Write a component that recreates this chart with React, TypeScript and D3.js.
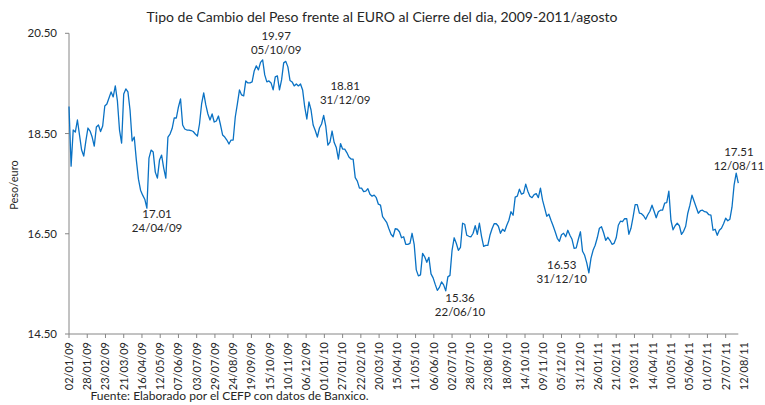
import React from "react";
import * as d3 from "d3";

// ---- data ----
const START_DATE = "2009-01-02";
const STEP_DAYS = 3;
const TICK_EVERY_DAYS = 26;
const TICK_COUNT = 37;
const END_LABEL = "12/08/11";
const yTicks = [14.5, 16.5, 18.5, 20.5];

// Peso per euro, one reading every 3 calendar days from 02/01/09 to 12/08/11
const rate = [
  19.04, 17.85, 18.57, 18.53, 18.77, 18.47, 18.17, 18.05, 18.35, 18.61,
  18.55, 18.43, 18.25, 18.63, 18.67, 18.54, 18.65, 19.05, 19.09, 19.21,
  19.33, 19.23, 19.45, 19.15, 18.57, 18.31, 19.29, 19.39, 19.33, 18.97,
  18.35, 18.43, 17.97, 17.59, 17.37, 17.27, 17.19, 17.01, 18.01, 18.17,
  18.13, 17.73, 17.61, 17.97, 18.07, 17.81, 17.61, 18.43, 18.49, 18.6,
  18.81, 18.81, 19.03, 19.19, 18.67, 18.59, 18.57, 18.57, 18.56, 18.54,
  18.49, 18.45, 18.69, 19.09, 19.31, 19.07, 18.89, 18.77, 18.89, 18.73,
  18.75, 18.85, 18.67, 18.47, 18.43, 18.37, 18.29, 18.37, 18.37, 18.83,
  19.09, 19.37, 19.27, 19.25, 19.55, 19.51, 19.51, 19.53, 19.75, 19.85,
  19.77, 19.92, 19.97, 19.67, 19.53, 19.55, 19.51, 19.37, 19.63, 19.65,
  19.37, 19.57, 19.91, 19.94, 19.83, 19.56, 19.53, 19.45, 19.49, 19.45,
  19.49, 19.37, 19.03, 18.79, 19.13, 18.97, 18.67, 18.56, 18.43, 18.61,
  18.69, 18.86, 18.65, 18.27, 18.33, 18.55, 18.32, 18.22, 17.99, 18.3,
  18.19, 18.19, 18.12, 18.03, 17.99, 17.99, 17.62, 17.55, 17.41, 17.41,
  17.34, 17.35, 17.4, 17.29, 17.25, 17.27, 17.22, 17.09, 17.07, 16.84,
  16.78, 16.72, 16.6, 16.49, 16.44, 16.6, 16.59, 16.54, 16.42, 16.44,
  16.29, 16.29, 16.31, 16.51, 16.29, 15.78, 15.66, 15.68, 16.11, 16.04,
  15.93, 16.03, 15.7, 15.62, 15.49, 15.37, 15.43, 15.54, 15.48, 15.36,
  15.64, 15.67, 16.17, 16.42, 16.31, 16.17, 16.23, 16.71, 16.69, 16.47,
  16.45, 16.44, 16.51, 16.66, 16.49, 16.71, 16.45, 16.25, 16.27, 16.27,
  16.47, 16.6, 16.7, 16.7, 16.65, 16.51, 16.59, 16.55, 16.67, 16.77,
  16.94, 16.87, 17.23, 17.25, 17.39, 17.29, 17.31, 17.49, 17.35, 17.25,
  17.22, 17.28, 17.3, 17.22, 17.41, 17.17, 17.01, 16.85, 16.89, 16.77,
  16.66, 16.54, 16.41, 16.35, 16.48, 16.51, 16.44, 16.57, 16.47, 16.39,
  16.21, 16.22, 16.39, 16.54, 16.15, 16.07, 15.92, 15.72, 16.01, 16.17,
  16.27, 16.42, 16.61, 16.64, 16.52, 16.37, 16.43, 16.37, 16.29, 16.31,
  16.42, 16.67, 16.75, 16.74, 16.8, 16.8, 16.49, 16.61, 16.83, 17.08,
  17.08, 16.91, 16.9, 16.86, 16.79, 16.88, 16.95, 17.07, 16.95, 16.82,
  16.94, 16.97, 16.97, 17.11, 17.12, 17.35, 16.77, 16.58, 16.66, 16.71,
  16.66, 16.49, 16.55, 16.65, 16.91, 17.07, 17.27, 17.15, 17.03, 16.91,
  16.96, 16.97, 16.94, 16.93, 16.88, 16.87, 16.57, 16.59, 16.47, 16.57,
  16.61, 16.7, 16.81, 16.76, 16.79, 17.03, 17.47, 17.71, 17.51,
];

// annotated points
const annValues = ["19.97", "18.81", "17.01", "15.36", "16.53", "17.51"];
const annDates = ["05/10/09", "31/12/09", "24/04/09", "22/06/10", "31/12/10", "12/08/11"];
// label offsets (px) from the annotated point
const annOffsets: [number, number][] = [
  [13.5, -19.5],
  [21.5, -27.5],
  [9.5, 10],
  [15, 11.7],
  [-18, 37],
  [2, -27],
];

const TITLE = "Tipo de Cambio del Peso frente al EURO al Cierre del dia, 2009-2011/agosto";
const Y_LABEL = "Peso/euro";
const SOURCE = "Fuente: Elaborado por el CEFP con datos de Banxico.";

export default function App() {
  const W = 765;
  const H = 405;
  const m = { left: 69, right: 738.3, top: 33.3, bottom: 334 };
  const font = "Lato, 'Open Sans', sans-serif";
  const axisColor = "#868686";
  const textColor = "#262626";

  const parseIso = d3.utcParse("%Y-%m-%d");
  const parseDmy = d3.utcParse("%d/%m/%y");
  const fmt = d3.utcFormat("%d/%m/%y");
  const t0 = parseIso(START_DATE) as Date;
  const dates = rate.map((_, i) => d3.utcDay.offset(t0, i * STEP_DAYS));

  const x = d3.scaleUtc().domain([t0, dates[dates.length - 1]]).range([m.left, m.right]);
  const y = d3.scaleLinear().domain([14.5, 20.5]).range([m.bottom, m.top]);

  const linePath = d3
    .line<number>()
    .x((_, i) => x(dates[i]))
    .y((d) => y(d))(rate) as string;

  const tickDates = d3.range(TICK_COUNT).map((k) => d3.utcDay.offset(t0, k * TICK_EVERY_DAYS));
  const tickStep = x(tickDates[1]) - x(tickDates[0]);
  const xLabels = tickDates.map((d) => ({ x: x(d), text: fmt(d) }));
  xLabels.push({ x: x(tickDates[tickDates.length - 1]) + tickStep, text: END_LABEL });

  return (
    <svg
      width={W}
      height={H}
      viewBox={`0 0 ${W} ${H}`}
      style={{ position: "absolute", left: 0, top: 0, background: "#fff" }}
      fontFamily={font}
    >
      <rect x={0} y={0} width={W} height={H} fill="#fff" />
      <text x={382} y={22} textAnchor="middle" fontSize={14} fill={textColor}>
        {TITLE}
      </text>

      {/* y axis */}
      <line x1={m.left} x2={m.left} y1={y(20.5)} y2={y(14.5)} stroke={axisColor} strokeWidth={1} />
      {yTicks.map((t) => (
        <g key={t}>
          <line x1={m.left - 4} x2={m.left} y1={y(t)} y2={y(t)} stroke={axisColor} strokeWidth={1} />
          <text x={57} y={y(t)} dy="0.35em" textAnchor="end" fontSize={11.5} fill={textColor}>
            {d3.format(".2f")(t)}
          </text>
        </g>
      ))}
      <text
        transform={`translate(14,185) rotate(-90)`}
        textAnchor="middle"
        dy="0.35em"
        fontSize={11}
        fill={textColor}
      >
        {Y_LABEL}
      </text>

      {/* x axis */}
      <line x1={m.left} x2={m.right} y1={m.bottom} y2={m.bottom} stroke={axisColor} strokeWidth={1} />
      {tickDates.map((d, k) => (
        <line
          key={k}
          x1={x(d)}
          x2={x(d)}
          y1={m.bottom}
          y2={m.bottom + 4}
          stroke={axisColor}
          strokeWidth={1}
        />
      ))}
      {xLabels.map((l, k) => (
        <text
          key={k}
          transform={`translate(${l.x},${m.bottom + 8}) rotate(-90)`}
          textAnchor="end"
          dy="0.35em"
          fontSize={11}
          fill={textColor}
        >
          {l.text}
        </text>
      ))}

      {/* series */}
      <path d={linePath} fill="none" stroke="#0a72c4" strokeWidth={1.3} strokeLinejoin="round" />

      {/* annotations */}
      {annValues.map((v, k) => {
        const ax = x(parseDmy(annDates[k]) as Date) + annOffsets[k][0];
        const ay = y(+v) + annOffsets[k][1];
        return (
          <g key={k} fontSize={11.5} fill={textColor} textAnchor="middle">
            <text x={ax} y={ay - 0.5}>{v}</text>
            <text x={ax} y={ay + 13.5}>{annDates[k]}</text>
          </g>
        );
      })}

      <text x={229.5} y={400} textAnchor="middle" fontSize={12} fill={textColor}>
        {SOURCE}
      </text>
    </svg>
  );
}
